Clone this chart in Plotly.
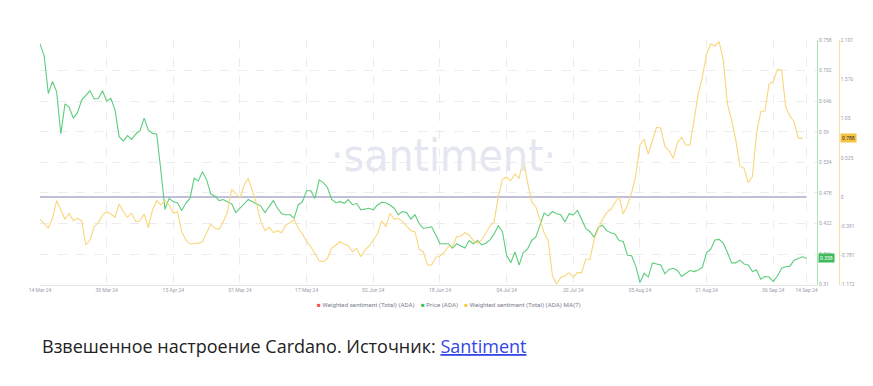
import pandas as pd
import plotly.graph_objects as go

start_date = "2024-03-14"

price = [
    0.751, 0.729, 0.660, 0.682, 0.663, 0.586, 0.641, 0.635, 0.615, 0.625, 0.648, 0.657, 0.665, 0.650, 0.651, 0.665,
    0.646, 0.651, 0.630, 0.581, 0.573, 0.583, 0.576, 0.586, 0.592, 0.615, 0.593, 0.587, 0.586, 0.520, 0.448, 0.468,
    0.462, 0.460, 0.446, 0.459, 0.468,
    0.505, 0.500, 0.517, 0.502, 0.476, 0.472, 0.464, 0.466, 0.462, 0.458, 0.442, 0.450, 0.459, 0.466, 0.462, 0.458,
    0.454, 0.442, 0.453, 0.464, 0.450, 0.440, 0.438, 0.438, 0.432, 0.456, 0.462, 0.482, 0.482, 0.468, 0.502, 0.497,
    0.488, 0.466, 0.460, 0.462,
    0.459, 0.466, 0.456, 0.459, 0.447, 0.448, 0.450, 0.447, 0.456, 0.461, 0.460, 0.456, 0.450, 0.438, 0.444, 0.442,
    0.430, 0.438, 0.422, 0.413, 0.415, 0.416, 0.401, 0.385, 0.385, 0.385, 0.377, 0.385, 0.381, 0.377, 0.391, 0.385,
    0.391, 0.383, 0.386, 0.392,
    0.403, 0.418, 0.407, 0.364, 0.350, 0.370, 0.346, 0.369, 0.375, 0.391, 0.397, 0.419, 0.441, 0.436, 0.444, 0.440,
    0.438, 0.425, 0.440, 0.438, 0.446, 0.430, 0.413, 0.407, 0.397, 0.415, 0.419, 0.409, 0.405, 0.403, 0.391, 0.389,
    0.364, 0.363, 0.344, 0.314,
    0.331, 0.324, 0.350, 0.348, 0.346, 0.330, 0.338, 0.340, 0.336, 0.325, 0.330, 0.336, 0.334, 0.337, 0.342, 0.369,
    0.375, 0.392, 0.393, 0.386, 0.369, 0.350, 0.350, 0.355, 0.348, 0.346, 0.334, 0.337, 0.320, 0.325, 0.324, 0.316,
    0.326, 0.340, 0.343, 0.344, 0.355, 0.358, 0.361, 0.358,
]

sentiment_ma7 = [
    -0.297, -0.360, -0.414, -0.284, -0.048, -0.173, -0.297, -0.217, -0.316, -0.284, -0.316, -0.641, -0.574, -0.396,
    -0.343, -0.240, -0.196, -0.226, -0.270, -0.093, -0.196, -0.270, -0.217, -0.329, -0.316, -0.226, -0.410, -0.173,
    -0.048, -0.106, -0.048, -0.106, -0.217, -0.196, -0.463, -0.574, -0.628,
    -0.618, -0.618, -0.597, -0.476, -0.360, -0.418, -0.431, -0.329, -0.196, 0.104, 0.051, -0.016, 0.162, 0.251,
    0.085, -0.093, -0.329, -0.450, -0.404, -0.476, -0.450, -0.476, -0.373, -0.343, -0.297, -0.418, -0.494, -0.597,
    -0.664, -0.761, -0.851, -0.864, -0.819, -0.685, -0.641, -0.597,
    -0.628, -0.654, -0.731, -0.685, -0.797, -0.708, -0.654, -0.574, -0.494, -0.316, -0.396, -0.217, -0.297, -0.284,
    -0.329, -0.387, -0.450, -0.463, -0.698, -0.731, -0.908, -0.908, -0.806, -0.788, -0.744, -0.664, -0.664, -0.530,
    -0.521, -0.476, -0.507, -0.583, -0.618, -0.574, -0.484, -0.387,
    -0.329, 0.005, 0.238, 0.265, 0.219, 0.309, 0.251, 0.519, 0.206, -0.062, -0.129, -0.297, -0.476, -0.583, -1.056,
    -1.163, -1.073, -1.056, -1.011, -1.073, -1.011, -1.011, -0.832, -0.832, -0.565, -0.431, -0.297, -0.209, -0.163,
    -0.075, 0.005, -0.226, -0.106, 0.059, 0.282, 0.697,
    0.773, 0.576, 0.741, 0.933, 0.920, 0.674, 0.620, 0.519, 0.727, 0.800, 0.697, 0.697, 1.031, 1.388, 1.610, 1.914,
    2.048, 2.021, 2.078, 1.834, 1.245, 1.031, 0.764, 0.416, 0.385, 0.192, 0.273, 0.861, 1.142, 1.155, 1.513, 1.543,
    1.709, 1.700, 1.201, 1.085, 1.008, 0.788, 0.788, None,
]

dates = pd.date_range(start_date, periods=len(price), freq="D")

x_ticks = ["2024-03-14", "2024-03-30", "2024-04-15", "2024-05-01", "2024-05-17", "2024-06-02", "2024-06-18",
           "2024-07-04", "2024-07-20", "2024-08-05", "2024-08-21", "2024-09-06", "2024-09-14"]
price_ticks = [0.758, 0.702, 0.646, 0.59, 0.534, 0.478, 0.422, 0.366, 0.31]
sent_ticks = [2.101, 1.576, 1.05, 0.525, 0, -0.391, -0.781, -1.172]

legend_names = ["Weighted sentiment (Total) (ADA)", "Price (ADA)", "Weighted sentiment (Total) (ADA) MA(7)"]
legend_colors = ["#f05454", "#35c256", "#f7c948"]

caption_text = "Взвешенное настроение Cardano. Источник: "
caption_link = "Santiment"

W, H = 873, 386
GREEN = "#5ccd7c"
YELLOW = "#f8d67a"
TICK_FONT = dict(family="Roboto", size=5, color="#9ba0ad")

fig = go.Figure()
fig.add_trace(go.Scatter(x=dates, y=price, mode="lines", line=dict(color=GREEN, width=1.1),
                         yaxis="y", showlegend=False, hoverinfo="skip"))
fig.add_trace(go.Scatter(x=dates, y=sentiment_ma7, mode="lines", line=dict(color=YELLOW, width=1.1),
                         yaxis="y2", showlegend=False, hoverinfo="skip"))

x_left, x_right = 40 / W, 817 / W
y_bot, y_top = 1 - 284.7 / H, 1 - 40 / H
x_end = pd.Timestamp(start_date) + pd.Timedelta(days=186.5)

fig.update_layout(
    width=W, height=H, margin=dict(l=0, r=0, t=0, b=0, autoexpand=False),
    paper_bgcolor="white", plot_bgcolor="white",
    xaxis=dict(domain=[x_left, x_right], range=[pd.Timestamp(start_date), x_end], automargin=False,
               tickvals=x_ticks, tickformat="%d %b %y", tickfont=TICK_FONT,
               showgrid=True, gridcolor="#ececec", griddash="dash", gridwidth=1,
               showline=True, linecolor="#e4e4e4", linewidth=1, zeroline=False, ticks=""),
    yaxis=dict(domain=[y_bot, y_top], range=[0.31, 0.758], side="right", anchor="free", automargin=False,
               position=x_right, tickvals=price_ticks, ticktext=[f"{v:g}" for v in price_ticks],
               tickfont=TICK_FONT, showgrid=True, gridcolor="#ececec", griddash="dash",
               showline=True, linecolor="#a8e6b8", linewidth=1, zeroline=False, ticks=""),
    yaxis2=dict(domain=[y_bot, y_top], range=[-1.172, 2.101], side="right", anchor="free", automargin=False,
                position=838.7 / W, overlaying="y", tickvals=sent_ticks,
                ticktext=[f"{v:g}" for v in sent_ticks], tickfont=TICK_FONT,
                showgrid=False, showline=True, linecolor="#f6e2a0", linewidth=1, zeroline=False, ticks=""),
)

# zero reference line of sentiment
fig.add_shape(type="line", xref="x", yref="y2", x0=dates[0], x1=dates[-1], y0=0, y1=0,
              line=dict(color="#a7abcb", width=1.5), layer="below")

# watermark
fig.add_annotation(text="·santiment·", xref="paper", yref="paper", x=443 / W, y=1 - 155 / H,
                   showarrow=False, font=dict(family="Liberation Sans Narrow, DejaVu Sans Condensed", size=44,
                                              color="#e4e7ef"), xanchor="center", yanchor="middle")

# last-value badges
fig.add_annotation(text=f"{price[-1]:.3f}", xref="paper", yref="y", x=818 / W, y=price[-1],
                   showarrow=False, xanchor="left", yanchor="middle", bgcolor="#3dbb5b",
                   font=dict(family="Roboto", size=5, color="white"), borderpad=1)
last_sent = [v for v in sentiment_ma7 if v is not None][-1]
fig.add_annotation(text=f"{last_sent:.3f}", xref="paper", yref="y2", x=840 / W, y=last_sent,
                   showarrow=False, xanchor="left", yanchor="middle", bgcolor="#f6c443",
                   font=dict(family="Roboto", size=5, color="#333"), borderpad=1)

# legend row
sp = "\u00a0"
legend_html = (sp * 4).join(
    f'<span style="color:{c}">■</span>{sp}{n}' for n, c in zip(legend_names, legend_colors))
fig.add_annotation(text=legend_html, xref="paper", yref="paper", x=449.5 / W, y=1 - 304.5 / H,
                   showarrow=False, xanchor="center", yanchor="middle",
                   font=dict(family="Roboto", size=6.2, color="#7c8190"))

# caption
fig.add_annotation(text=f'{caption_text}<span style="color:#3346e6"><u>{caption_link}</u></span>',
                   xref="paper", yref="paper", x=40 / W, y=1 - 346 / H, showarrow=False,
                   xanchor="left", yanchor="middle",
                   font=dict(family="Open Sans", size=18, color="#222222"))

fig.write_html("out.html")
